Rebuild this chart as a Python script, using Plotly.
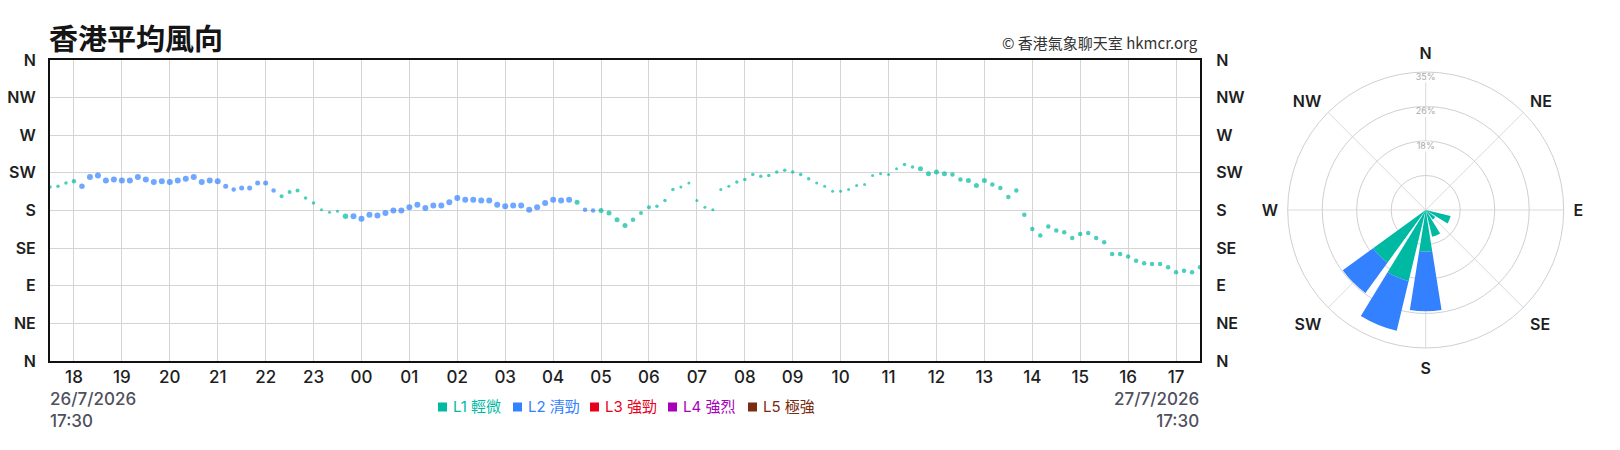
import plotly.graph_objects as go
import pandas as pd

# ---------------- data ----------------
start_time = "2026-07-26 17:30"
end_time = "2026-07-27 17:30"
times = pd.date_range(start_time, end_time, freq="10min")  # 145 readings, every 10 minutes

# mean wind direction (degrees, 0 = N, 90 = E, 180 = S, 270 = W)
direction = [
    208, 209, 213, 215, 209, 220, 222, 216, 217, 216,
    216, 220, 217, 214, 215, 214, 216, 218, 220, 214,
    216, 215, 209, 205, 207, 207, 213, 213, 204, 197,
    202, 204, 195, 189, 181, 178, 179, 173, 173, 170,
    175, 174, 177, 180, 180, 184, 187, 183, 186, 186,
    190, 195, 193, 193, 192, 192, 187, 185, 186, 186,
    181, 184, 189, 193, 192, 193, 190, 181, 180, 180,
    177, 169, 162, 169, 177, 184, 185, 192, 205, 208,
    213, 192, 184, 181, 205, 209, 214, 217, 223, 221,
    222, 226, 228, 226, 223, 218, 213, 209, 203, 203,
    205, 210, 211, 222, 224, 223, 230, 235, 232, 230,
    224, 226, 224, 223, 217, 216, 210, 216, 211, 207,
    196, 204, 175, 158, 150, 161, 156, 154, 147, 152,
    153, 147, 142, 128, 128, 125, 120, 117, 116, 116,
    112, 106, 108, 106, 112,
]

# wind strength level (1 = L1 ... 5 = L5)
level = [
    1, 1, 1, 1, 2, 2, 2, 2, 2, 2,
    2, 2, 2, 2, 2, 2, 2, 2, 2, 2,
    2, 2, 2, 2, 2, 2, 2, 2, 2, 1,
    1, 1, 1, 1, 1, 1, 1, 1, 2, 2,
    2, 2, 2, 2, 2, 2, 2, 2, 2, 2,
    2, 2, 2, 2, 2, 2, 2, 2, 2, 2,
    2, 2, 2, 2, 2, 2, 1, 2, 2, 1,
    1, 1, 1, 1, 1, 1, 1, 1, 1, 1,
    1, 1, 1, 1, 1, 1, 1, 1, 1, 1,
    1, 1, 1, 1, 1, 1, 1, 1, 1, 1,
    1, 1, 1, 1, 1, 1, 1, 1, 1, 1,
    1, 1, 1, 1, 1, 1, 1, 1, 1, 1,
    1, 1, 1, 1, 1, 1, 1, 1, 1, 1,
    1, 1, 1, 1, 1, 1, 1, 1, 1, 1,
    1, 1, 1, 1, 1,
]

# mean wind speed (km/h), drives the marker size
speed = [
    14, 14, 14, 18, 22, 24, 24, 24, 24, 24,
    24, 24, 24, 24, 24, 24, 24, 24, 24, 24,
    24, 24, 20, 18, 20, 20, 20, 20, 18, 16,
    16, 16, 14, 14, 12, 12, 12, 22, 24, 24,
    24, 24, 24, 24, 24, 24, 24, 24, 24, 24,
    24, 24, 24, 24, 24, 24, 24, 24, 24, 24,
    24, 24, 24, 24, 24, 24, 20, 18, 18, 20,
    20, 20, 20, 18, 16, 16, 14, 14, 14, 12,
    12, 12, 12, 12, 12, 12, 14, 14, 14, 14,
    14, 14, 14, 14, 14, 14, 12, 12, 12, 12,
    12, 12, 12, 12, 12, 12, 12, 14, 14, 20,
    20, 20, 20, 18, 18, 20, 20, 20, 18, 18,
    18, 18, 18, 18, 18, 18, 18, 18, 18, 18,
    18, 18, 18, 18, 18, 18, 18, 18, 18, 18,
    18, 18, 18, 18, 18,
]

level_names = ["L1 輕微", "L2 清勁", "L3 強勁", "L4 強烈", "L5 極強"]
level_colors = ["#00b9a3", "#3381ff", "#e8001c", "#a600b8", "#7a2c12"]

dir_tickvals = [0, 45, 90, 135, 180, 225, 270, 315, 360]
dir_ticktext = ["N", "NE", "E", "SE", "S", "SW", "W", "NW", "N"]

# wind rose (percentage of time by direction and level)
rose_theta = [225, 202.5, 180, 157.5, 135, 112.5]   # SW, SSW, S, SSE, SE, ESE
rose_L1 = [16.5, 18.5, 10.5, 7.0, 3.0, 6.5]
rose_L2 = [9.5, 13.0, 15.2, 0, 0, 0]
rose_rings = [8.75, 17.5, 26.25, 35]
rose_ring_labels = ["", "18%", "26%", "35%"]
compass_deg = [0, 45, 90, 135, 180, 225, 270, 315]
compass_text = ["N", "NE", "E", "SE", "S", "SW", "W", "NW"]

title_text = "香港平均風向"
credit_text = "© 香港氣象聊天室 hkmcr.org"
start_label = "26/7/2026<br>17:30"
end_label = "27/7/2026<br>17:30"

# ---------------- figure ----------------
FONT = "Inter, 'Noto Sans CJK TC', sans-serif"
CJK = "'Noto Sans CJK TC', Inter, sans-serif"
W, H = 1620, 450
ML, MR, MT, MB = 50, 0, 60, 89
PW, PH = W - ML - MR, H - MT - MB


def px(x):
    return (x - ML) / PW


def py(y):
    return (MT + PH - y) / PH


fig = go.Figure()

for k in range(5):
    idx = [i for i, l in enumerate(level) if l == k + 1]
    if not idx:
        continue
    fig.add_trace(go.Scatter(
        x=[times[i] for i in idx],
        y=[direction[i] for i in idx],
        mode="markers",
        marker=dict(size=[speed[i] / 4 for i in idx], color=level_colors[k], line=dict(width=0)),
        showlegend=False, hoverinfo="skip", xaxis="x", yaxis="y",
    ))

# trace for the right-hand direction axis
fig.add_trace(go.Scatter(x=[times[0]], y=[None], mode="markers", showlegend=False,
                         hoverinfo="skip", xaxis="x", yaxis="y2"))

# wind rose
fig.add_trace(go.Barpolar(r=rose_L1, theta=rose_theta, width=18, marker=dict(color=level_colors[0], line=dict(width=0)),
                          showlegend=False, hoverinfo="skip", subplot="polar"))
fig.add_trace(go.Barpolar(r=rose_L2, theta=rose_theta, width=18, marker=dict(color=level_colors[1], line=dict(width=0)),
                          showlegend=False, hoverinfo="skip", subplot="polar"))
ring_lab_r = [r - 1.35 for r, t in zip(rose_rings, rose_ring_labels) if t]
ring_lab_t = [t for t in rose_ring_labels if t]
fig.add_trace(go.Scatterpolar(
    r=ring_lab_r, theta=[0] * len(ring_lab_r), text=ring_lab_t,
    mode="markers+text", textposition="middle center",
    marker=dict(symbol="square", size=10, color="white"),
    textfont=dict(family=FONT, size=9, color="#aaaaaa"),
    showlegend=False, hoverinfo="skip", subplot="polar",
))

axis_font = dict(family=FONT, size=16, color="#1e1e1e", weight=600)

fig.update_layout(
    width=W, height=H,
    margin=dict(l=ML, r=MR, t=MT, b=MB, pad=0),
    paper_bgcolor="white", plot_bgcolor="white",
    xaxis=dict(
        domain=[0, 1150 / PW], type="date",
        range=[times[0], times[-1]],
        tick0="2026-07-26 18:00", dtick=3600000, tickformat="%H",
        showgrid=True, gridcolor="#d4d4d4", gridwidth=1,
        showline=True, linecolor="#111111", linewidth=2, mirror=True,
        ticks="",
        tickfont=dict(family=FONT, size=17, color="#1e1e1e", weight=500),
        zeroline=False, fixedrange=True,
    ),
    yaxis=dict(
        range=[0, 360], tickvals=dir_tickvals, ticktext=dir_ticktext,
        showgrid=True, gridcolor="#d4d4d4", gridwidth=1,
        showline=True, linecolor="#111111", linewidth=2, mirror=True,
        ticks="outside", ticklen=9, tickcolor="rgba(0,0,0,0)",
        tickfont=axis_font, zeroline=False, fixedrange=True,
    ),
    yaxis2=dict(
        overlaying="y", side="right", anchor="x",
        range=[0, 360], tickvals=dir_tickvals, ticktext=dir_ticktext,
        showgrid=False, showline=False, zeroline=False,
        ticks="outside", ticklen=12, tickcolor="rgba(0,0,0,0)",
        tickfont=axis_font, fixedrange=True,
    ),
    polar=dict(
        domain=dict(x=[px(1287.7), px(1563.7)], y=[py(348), py(72)]),
        bgcolor="white", barmode="stack",
        angularaxis=dict(
            direction="clockwise", rotation=90,
            tickvals=compass_deg, ticktext=compass_text,
            showgrid=True, gridcolor="#dadada", gridwidth=1,
            showline=True, linecolor="#d0d0d0", linewidth=1,
            ticks="outside", ticklen=6, tickcolor="rgba(0,0,0,0)",
            tickfont=dict(family=FONT, size=16, color="#1e1e1e", weight=600),
        ),
        radialaxis=dict(
            range=[0, 35], tickvals=rose_rings, showticklabels=False,
            ticks="", showline=False, gridcolor="#d0d0d0", gridwidth=1, angle=90,
        ),
    ),
)

annotations = [
    dict(text=title_text, x=px(47), y=py(37), xref="paper", yref="paper", xanchor="left", yanchor="middle",
         showarrow=False, font=dict(family=CJK, size=29, color="#151515", weight=700)),
    dict(text=credit_text, x=px(1200), y=py(43), xref="paper", yref="paper", xanchor="right", yanchor="middle",
         showarrow=False, font=dict(family=CJK, size=15, color="#333333")),
    dict(text=start_label, x=px(48), y=py(410), xref="paper", yref="paper", xanchor="left", yanchor="middle",
         align="left", showarrow=False, font=dict(family=FONT, size=17, color="#4f4f5e", weight=500)),
    dict(text=end_label, x=px(1201), y=py(410), xref="paper", yref="paper", xanchor="right", yanchor="middle",
         align="right", showarrow=False, font=dict(family=FONT, size=17, color="#4f4f5e", weight=500)),
]

shapes = []
legend_x = [438, 513, 590, 668, 748]
for k in range(5):
    x0 = legend_x[k]
    shapes.append(dict(type="rect", xref="paper", yref="paper",
                       x0=px(x0), x1=px(x0 + 9), y0=py(411.5), y1=py(402.5),
                       fillcolor=level_colors[k], line=dict(width=0)))
    annotations.append(dict(text=level_names[k], x=px(x0 + 13), y=py(407), xref="paper", yref="paper",
                            xanchor="left", yanchor="middle", showarrow=False,
                            font=dict(family=FONT, size=15, color=level_colors[k])))

fig.update_layout(annotations=annotations, shapes=shapes)

fig.write_html("out.html")
